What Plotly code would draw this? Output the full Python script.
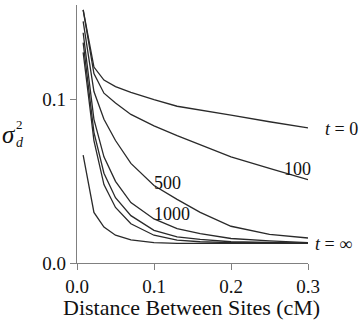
import plotly.graph_objects as go

# distance between sites (cM)
x = [0.008, 0.022, 0.035, 0.05, 0.07, 0.1, 0.13, 0.16, 0.2, 0.25, 0.3]

t0    = [0.155, 0.120, 0.112, 0.108, 0.1045, 0.100, 0.096, 0.0935, 0.0905, 0.0865, 0.0828]
t100  = [0.155, 0.116, 0.104, 0.098, 0.091, 0.084, 0.078, 0.0725, 0.065, 0.058, 0.051]
t500  = [0.148, 0.105, 0.088, 0.075, 0.061, 0.0475, 0.039, 0.031, 0.0225, 0.0175, 0.0153]
t1000 = [0.141, 0.088, 0.065, 0.050, 0.037, 0.027, 0.021, 0.018, 0.015, 0.0135, 0.0125]
tA    = [0.135, 0.080, 0.055, 0.040, 0.029, 0.020, 0.016, 0.0145, 0.013, 0.0125, 0.0122]
tB    = [0.129, 0.075, 0.048, 0.034, 0.024, 0.017, 0.014, 0.013, 0.0125, 0.0122, 0.0121]
tinf  = [0.066, 0.031, 0.022, 0.017, 0.0142, 0.0125, 0.012, 0.012, 0.012, 0.012, 0.012]

series = [t0, t100, t500, t1000, tA, tB, tinf]

xticks = [0.0, 0.1, 0.2, 0.3]
xticklabels = ["0.0", "0.1", "0.2", "0.3"]
yticks = [0.0, 0.1]
yticklabels = ["0.0", "0.1"]

FONT = "Liberation Serif"
LINE = "#2a2a2a"
AX = "#808080"

fig = go.Figure()
for s in series:
    fig.add_trace(go.Scatter(x=x, y=s, mode="lines",
                             line=dict(color=LINE, width=1.3),
                             showlegend=False, hoverinfo="skip"))

ann = dict(showarrow=False, font=dict(family=FONT, size=18, color="#111"))
fig.add_annotation(x=1.065, y=0.0822, xref="paper", text="<i>t</i> = 0", xanchor="left", yanchor="middle", **ann)
fig.add_annotation(x=0.287, y=0.0577, text="100", xanchor="center", yanchor="middle", **ann)
fig.add_annotation(x=0.117, y=0.049, text="500", xanchor="center", yanchor="middle", **ann)
fig.add_annotation(x=0.123, y=0.030, text="1000", xanchor="center", yanchor="middle", **ann)
fig.add_annotation(x=1.0216, y=0.0117, xref="paper", text="<i>t</i> = ∞", xanchor="left", yanchor="middle", **ann)

# x-axis title
fig.add_annotation(x=0.149, y=-0.172, xref="x", yref="paper",
                   text="Distance Between Sites (cM)", showarrow=False,
                   xanchor="center", yanchor="middle",
                   font=dict(family=FONT, size=22, color="#111"))
# y-axis title sigma_d^2
fig.add_annotation(x=-0.295, y=0.50, xref="paper", yref="paper", text="<i>σ</i>",
                   showarrow=False, xanchor="center", yanchor="middle",
                   font=dict(family=FONT, size=25, color="#111"))
fig.add_annotation(x=-0.250, y=0.537, xref="paper", yref="paper", text="2",
                   showarrow=False, xanchor="center", yanchor="middle",
                   font=dict(family=FONT, size=13, color="#111"))
fig.add_annotation(x=-0.248, y=0.466, xref="paper", yref="paper", text="<i>d</i>",
                   showarrow=False, xanchor="center", yanchor="middle",
                   font=dict(family=FONT, size=14, color="#111"))

fig.update_layout(
    width=360, height=326,
    margin=dict(l=77, r=52, t=5, b=63),
    paper_bgcolor="white", plot_bgcolor="white",
    font=dict(family=FONT, color="#111"),
)
fig.update_xaxes(range=[0, 0.3], tickvals=xticks, ticktext=xticklabels,
                 showgrid=False, zeroline=False, showline=True, linecolor=AX, linewidth=1.2,
                 ticks="outside", ticklen=6, tickcolor=AX, tickwidth=1.2,
                 tickfont=dict(family=FONT, size=19, color="#111"))
fig.update_yaxes(range=[0, 0.158], tickvals=yticks, ticktext=yticklabels,
                 showgrid=False, zeroline=False, showline=True, linecolor=AX, linewidth=1.2,
                 ticks="outside", ticklen=6, tickcolor=AX, tickwidth=1.2,
                 tickfont=dict(family=FONT, size=19, color="#111"))

fig.write_html("out.html")
